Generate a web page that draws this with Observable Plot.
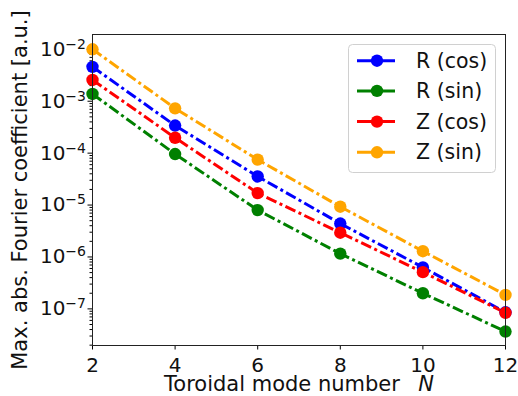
<!DOCTYPE html>
<html><head><meta charset="utf-8">
<script src="https://cdn.jsdelivr.net/npm/d3@7"></script>
<script src="https://cdn.jsdelivr.net/npm/@observablehq/plot@0.6"></script>
<style>
body{margin:0;background:#fff;font-family:"DejaVu Sans",sans-serif;}
#wrap{position:relative;width:518px;height:396px;}
#legend{position:absolute;left:348px;top:44px;}
</style></head><body><div id="wrap"></div>
<script>
// Data
const N = [2, 4, 6, 8, 10, 12];
const seriesNames = ["R (cos)", "R (sin)", "Z (cos)", "Z (sin)"];
const seriesColors = ["blue", "green", "red", "orange"];
const Rcos = [4.6e-3, 3.4e-4, 3.56e-5, 4.4e-6, 6.3e-7, 8.6e-8];
const Rsin = [1.38e-3, 9.6e-5, 8.0e-6, 1.16e-6, 2.0e-7, 3.66e-8];
const Zcos = [2.57e-3, 1.98e-4, 1.7e-5, 2.93e-6, 5.1e-7, 8.4e-8];
const Zsin = [1.0e-2, 7.3e-4, 7.5e-5, 9.3e-6, 1.29e-6, 1.86e-7];
const xTicks = [2, 4, 6, 8, 10, 12];
const yExponents = [-7, -6, -5, -4, -3, -2];
const xLabel = "Toroidal mode number";
const xLabelVar = "N";
const yLabel = "Max. abs. Fourier coefficient [a.u.]";

const seriesValues = [Rcos, Rsin, Zcos, Zsin];
const data = [];
seriesNames.forEach((s, j) => N.forEach((n, i) => data.push({series: s, N: n, value: seriesValues[j][i]})));
const yMajor = yExponents.map(e => Math.pow(10, e));
const yMinor = [];
for (let e = -8; e <= -2; e++) for (let m = 2; m <= 9; m++) {
  const v = m * Math.pow(10, e);
  if (v > 1.97e-8 && v < 0.0193) yMinor.push(v);
}

const FS = 20, LFS = 21;
const dash = "11,3.5,3,3.5";
const chart = Plot.plot({
  width: 518, height: 396,
  marginLeft: 92, marginRight: 13, marginTop: 34, marginBottom: 51,
  style: {fontFamily: "DejaVu Sans, sans-serif", fontSize: FS + "px", color: "black", background: "white"},
  x: {domain: [2, 12]},
  y: {type: "log", domain: [1.97e-8, 0.0193]},
  color: {domain: seriesNames, range: seriesColors},
  marks: [
    Plot.axisX({ticks: xTicks, tickSize: 4.5, tickPadding: 8, fontSize: FS, label: null, tickFormat: d => String(d), fill: "#111"}),
    Plot.axisY({ticks: yMinor, tickSize: 2.5, tickFormat: () => "", label: null}),
    Plot.axisY({ticks: yMajor, tickSize: 4.5, tickPadding: 2, fontSize: FS, label: null, fill: "#111",
      tickFormat: d => "10^" + Math.round(Math.log10(d))}),
    ...seriesNames.map(s => Plot.line(data.filter(d => d.series === s), {
      x: "N", y: "value", stroke: "series", strokeWidth: 3, strokeDasharray: dash, strokeLinecap: "butt"})),
    ...seriesNames.map(s => Plot.dot(data.filter(d => d.series === s), {
      x: "N", y: "value", fill: "series", r: 6.2})),
    Plot.frame({stroke: "#222", strokeWidth: 1}),
    Plot.text([yLabel], {frameAnchor: "left", textAnchor: "middle", text: d => d, rotate: -90, dx: -72, fontSize: LFS, fill: "#111"}),
    Plot.text([xLabel], {frameAnchor: "bottom", textAnchor: "middle", text: d => d, dy: 45, fontSize: LFS, fill: "#111"})
  ]
});
document.getElementById("wrap").appendChild(chart);

// Superscripted y tick labels
d3.select(chart).selectAll("text").each(function() {
  const t = this.textContent;
  if (/^10\^-?\d+$/.test(t)) {
    const exp = t.split("^")[1].replace("-", "\u2212");
    const el = d3.select(this);
    el.text("10");
    el.append("tspan").attr("dy", "-0.5em").attr("font-size", "14px").text(exp);
  }
});
// Italic variable in x label
d3.select(chart).selectAll("text").filter(function() { return this.textContent === xLabel; })
  .each(function() {
    const el = d3.select(this);
    el.text(xLabel + "\u00a0\u00a0");
    el.append("tspan").attr("font-style", "italic").attr("dx", 5).text(xLabelVar);
  });

// Legend
const lg = d3.select("#wrap").append("svg").attr("id", "legend").attr("width", 148).attr("height", 129);
lg.append("rect").attr("x", 0.5).attr("y", 0.5).attr("width", 147).attr("height", 128).attr("rx", 4)
  .attr("fill", "rgba(255,255,255,0.8)").attr("stroke", "#d0d0d0");
const rowY = [16.7, 46.9, 77.6, 108.3];
seriesNames.forEach((s, i) => {
  const g = lg.append("g").attr("transform", `translate(0,${rowY[i]})`);
  g.append("line").attr("x1", 9).attr("x2", 47).attr("stroke", seriesColors[i]).attr("stroke-width", 3);
  g.append("circle").attr("cx", 29).attr("r", 6.2).attr("fill", seriesColors[i]);
  g.append("text").attr("x", 68).attr("dy", "0.35em").attr("font-size", 20.5).attr("fill", "#111")
    .attr("font-family", "DejaVu Sans, sans-serif").text(s);
});
</script>
</body></html>
